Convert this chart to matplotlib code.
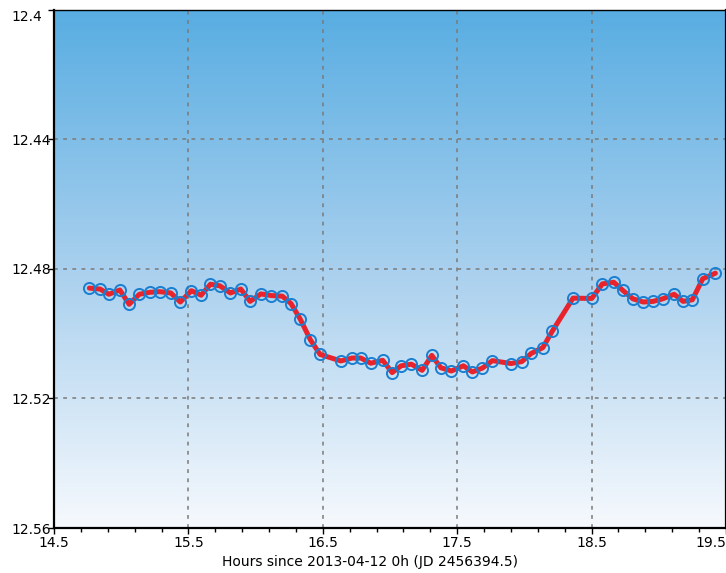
import numpy as np
import matplotlib
matplotlib.use("Agg")
import matplotlib.pyplot as plt
from matplotlib.colors import LinearSegmentedColormap
from matplotlib.transforms import ScaledTranslation

# hours since 2013-04-12 0h UT
hours = [14.763, 14.843, 14.908, 14.990, 15.059, 15.135, 15.213, 15.287, 15.369, 15.440,
         15.522, 15.595, 15.664, 15.734, 15.813, 15.890, 15.959, 16.039, 16.118, 16.199,
         16.264, 16.331, 16.408, 16.480, 16.634, 16.718, 16.783, 16.857, 16.946, 17.016,
         17.083, 17.159, 17.239, 17.311, 17.378, 17.457, 17.546, 17.613, 17.688, 17.762,
         17.901, 17.981, 18.050, 18.137, 18.206, 18.362, 18.501, 18.580, 18.665, 18.732,
         18.807, 18.885, 18.958, 19.030, 19.114, 19.181, 19.250, 19.327, 19.421]

# magnitudes
mags = [12.4859, 12.4862, 12.4878, 12.4865, 12.4909, 12.4878, 12.4872, 12.4870, 12.4874, 12.4902,
        12.4867, 12.4881, 12.4847, 12.4852, 12.4874, 12.4862, 12.4900, 12.4877, 12.4882, 12.4884,
        12.4907, 12.4954, 12.5019, 12.5064, 12.5084, 12.5075, 12.5075, 12.5091, 12.5082, 12.5120,
        12.5099, 12.5094, 12.5113, 12.5067, 12.5105, 12.5115, 12.5099, 12.5118, 12.5106, 12.5083,
        12.5092, 12.5086, 12.5061, 12.5043, 12.4993, 12.4890, 12.4891, 12.4846, 12.4841, 12.4866,
        12.4892, 12.4902, 12.4900, 12.4892, 12.4878, 12.4900, 12.4895, 12.4830, 12.4813]

xticks = [14.5, 15.5, 16.5, 17.5, 18.5, 19.5]
yticks = [12.4, 12.44, 12.48, 12.52, 12.56]
ytick_labels = ["12.4", "12.44", "12.48", "12.52", "12.56"]

plt.rcParams['font.family'] = 'DejaVu Sans'
plt.rcParams['font.size'] = 10

fig = plt.figure(figsize=(7.26, 5.73), dpi=100)
ax = fig.add_axes([54 / 726, 1 - 528 / 573, 672 / 726, 518 / 573])

# blue-to-white background gradient
cmap = LinearSegmentedColormap.from_list("bg", ["#f6f9fd", "#a9d0ee", "#58ade2"])
grad = np.linspace(0, 1, 256).reshape(-1, 1)
ax.imshow(grad, cmap=cmap, aspect='auto', extent=[0, 1, 0, 1],
          transform=ax.transAxes, origin='lower', zorder=0)

# dotted grid on the inner ticks only
for x in xticks[1:-1]:
    ax.axvline(x, color='#7a7a7a', ls=(0, (2.5, 3.5)), lw=1.1, zorder=1)
for y in yticks[1:-1]:
    ax.axhline(y, color='#7a7a7a', ls=(0, (2.5, 3.5)), lw=1.1, zorder=1)

ax.plot(hours, mags, color='#e8232b', lw=3.6, zorder=3, solid_capstyle='round')
ax.plot(hours, mags, ls='none', marker='o', ms=8, mfc='none', mec='#1a7fd0', mew=1.4, zorder=4)

ax.set_xlim(14.5, 19.5)
ax.set_ylim(12.56, 12.4)
ax.set_xticks(xticks)
ax.set_xticklabels([str(t) for t in xticks])
ax.set_xticks(np.arange(14.5, 19.51, 0.2), minor=True)
ax.set_yticks(yticks)
ax.set_yticklabels(ytick_labels)

ax.tick_params(axis='x', which='major', direction='out', length=4, width=1, pad=2)
ax.tick_params(axis='x', which='minor', direction='out', length=3, width=1)
ax.tick_params(axis='y', which='major', direction='out', length=4, width=1, pad=27)
for lbl in ax.get_yticklabels():
    lbl.set_horizontalalignment('left')
# keep edge labels inside the figure
ax.get_yticklabels()[0].set_transform(ax.get_yticklabels()[0].get_transform()
                                       + ScaledTranslation(0, -4 / 72, fig.dpi_scale_trans))
ax.get_xticklabels()[-1].set_horizontalalignment('right')

for side in ['left', 'bottom', 'right']:
    ax.spines[side].set_linewidth(1.6)
ax.spines['top'].set_linewidth(1.0)
for sp in ax.spines.values():
    sp.set_zorder(10)

fig.text(370 / 726, 1 - 562 / 573, "Hours since 2013-04-12 0h (JD 2456394.5)",
         ha='center', va='center', fontsize=10)

fig.savefig("out.png", dpi=100)
